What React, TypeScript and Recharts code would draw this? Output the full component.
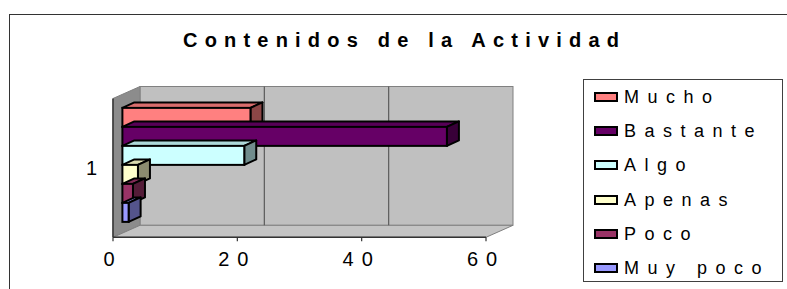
import React from 'react';
import { BarChart, Bar, XAxis, YAxis, Legend, ReferenceArea } from 'recharts';

// chart values
const CATEGORIES = ['1'];
const SERIES_NAMES = ['Mucho', 'Bastante', 'Algo', 'Apenas', 'Poco', 'Muy poco'];
const MUCHO = [20.6];
const BASTANTE = [52.2];
const ALGO = [19.6];
const APENAS = [2.5];
const POCO = [1.7];
const MUY_POCO = [1.0];
const X_TICKS = [0, 20, 40, 60];

const SERIES_VALUES = [MUCHO, BASTANTE, ALGO, APENAS, POCO, MUY_POCO];

// classic Excel palette
const COLORS = ['#FF8080', '#660066', '#CCFFFF', '#FFFFCC', '#993366', '#9999FF'];

const FONT = '"Liberation Sans", Arial, sans-serif';

// 3D offsets
const WALL_DX = 27;
const WALL_DY = 12;
const FRONT_DX = 9.4;
const FRONT_DY = 4.5;
const DEPTH_DX = 12;
const DEPTH_DY = 5.5;

const chartData = CATEGORIES.map((name, i) => {
  const row: { [key: string]: string | number } = { name };
  SERIES_NAMES.forEach((s, k) => {
    row[s] = SERIES_VALUES[k][i];
  });
  return row;
});

const shade = (hex: string, f: number) => {
  const n = parseInt(hex.slice(1), 16);
  const r = Math.round(((n >> 16) & 255) * f);
  const g = Math.round(((n >> 8) & 255) * f);
  const b = Math.round((n & 255) * f);
  return `rgb(${r},${g},${b})`;
};

const pts = (arr: number[][]) => arr.map(p => p.join(',')).join(' ');

// bar drawn as a little 3D box: top, right side, front face
const Bar3D = (props: any) => {
  const { x, y, width, height, color } = props;
  if (width == null || height == null) return null;
  const fx = x + FRONT_DX;
  const fy = y - FRONT_DY;
  const top = [[fx, fy], [fx + DEPTH_DX, fy - DEPTH_DY], [fx + width + DEPTH_DX, fy - DEPTH_DY], [fx + width, fy]];
  const side = [[fx + width, fy], [fx + width + DEPTH_DX, fy - DEPTH_DY], [fx + width + DEPTH_DX, fy + height - DEPTH_DY], [fx + width, fy + height]];
  return (
    <g>
      <polygon points={pts(top)} fill={shade(color, 0.85)} stroke="#000" strokeWidth={2} strokeLinejoin="round" />
      <polygon points={pts(side)} fill={shade(color, 0.55)} stroke="#000" strokeWidth={2} strokeLinejoin="round" />
      <rect x={fx} y={fy} width={width} height={height} fill={color} stroke="#000" strokeWidth={2} />
    </g>
  );
};

// walls, floor and gridlines of the 3D plot box
const Walls = (props: any) => {
  const { x, y, width, height } = props;
  const b = y + height;
  const min = X_TICKS[0];
  const max = X_TICKS[X_TICKS.length - 1];
  return (
    <g>
      <rect x={x + WALL_DX} y={y - WALL_DY} width={width} height={height} fill="#C0C0C0" stroke="#808080" strokeWidth={1} />
      <polygon points={pts([[x, y], [x + WALL_DX, y - WALL_DY], [x + WALL_DX, b - WALL_DY], [x, b]])} fill="#8C8C8C" stroke="#808080" strokeWidth={1} />
      <polygon points={pts([[x, b], [x + WALL_DX, b - WALL_DY], [x + width + WALL_DX, b - WALL_DY], [x + width, b]])} fill="#C4C4C4" stroke="#808080" strokeWidth={1} />
      {X_TICKS.slice(1, -1).map(t => {
        const gx = x + WALL_DX + (width * (t - min)) / (max - min);
        return <line key={t} x1={gx} y1={y - WALL_DY} x2={gx} y2={b - WALL_DY} stroke="#5A5A5A" strokeWidth={1.2} />;
      })}
    </g>
  );
};

const XTick = (props: any) => {
  const { x, y, payload } = props;
  return (
    <text x={x} y={y} dy="0.71em" textAnchor="middle" fontSize={20} fontFamily={FONT} fill="#000" letterSpacing={8}>
      {payload.value}
    </text>
  );
};

const LegendBox = (props: any) => {
  const payload = [...(props.payload || [])].sort(
    (a: any, b: any) => SERIES_NAMES.indexOf(a.value) - SERIES_NAMES.indexOf(b.value)
  );
  return (
    <div
      style={{
        width: 200,
        height: 203,
        boxSizing: 'border-box',
        border: '1px solid #404040',
        background: '#fff',
      }}
    >
      {payload.map((entry: any) => (
        <div key={entry.value} style={{ height: 34.2, display: 'flex', alignItems: 'center', paddingLeft: 10 }}>
          <span
            style={{
              display: 'inline-block',
              width: 24,
              height: 10,
              boxSizing: 'border-box',
              border: '2px solid #000',
              background: COLORS[SERIES_NAMES.indexOf(entry.value)],
              marginRight: 6,
            }}
          />
          <span style={{ fontFamily: FONT, fontSize: 18, letterSpacing: 8.5, color: '#000', lineHeight: 1 }}>
            {entry.value}
          </span>
        </div>
      ))}
    </div>
  );
};

export default function App() {
  return (
    <div style={{ position: 'absolute', left: 0, top: 0, width: 787, height: 289, overflow: 'hidden', background: '#fff' }}>
      <div
        style={{
          position: 'absolute',
          left: 9,
          top: 14,
          width: 900,
          height: 400,
          border: '1px solid #333',
        }}
      />
      <div
        style={{
          position: 'absolute',
          left: 183,
          top: 30,
          fontFamily: FONT,
          fontWeight: 'bold',
          fontSize: 20,
          lineHeight: 1,
          letterSpacing: 7.2,
          color: '#000',
          whiteSpace: 'nowrap',
        }}
      >
        Contenidos de la Actividad
      </div>
      <div style={{ position: 'absolute', left: 0, top: 0 }}>
        <BarChart
          width={787}
          height={289}
          data={chartData}
          layout="vertical"
          margin={{ top: 98.5, right: 301, bottom: 21.7, left: 83 }}
          barCategoryGap="10%"
          barGap={0}
        >
          <ReferenceArea x1={X_TICKS[0]} x2={X_TICKS[X_TICKS.length - 1]} shape={(p: any) => <Walls {...p} />} />
          <XAxis
            type="number"
            domain={[X_TICKS[0], X_TICKS[X_TICKS.length - 1]]}
            ticks={X_TICKS}
            height={30}
            axisLine={{ stroke: '#333', strokeWidth: 1.5 }}
            tickLine={{ stroke: '#333', strokeWidth: 1.2 }}
            tickSize={4}
            tickMargin={10.6}
            tick={<XTick />}
            interval={0}
          />
          <YAxis
            type="category"
            dataKey="name"
            width={30}
            axisLine={{ stroke: '#333', strokeWidth: 1.5 }}
            tickLine={false}
            tickSize={0}
            tickMargin={16}
            tick={{ fontSize: 20, fontFamily: FONT, fill: '#000' }}
          />
          {SERIES_NAMES.map((s, k) => (
            <Bar
              key={s}
              dataKey={s}
              name={s}
              fill={COLORS[k]}
              isAnimationActive={false}
              shape={(p: any) => <Bar3D {...p} color={COLORS[k]} />}
            />
          ))}
          <Legend
            layout="vertical"
            align="center"
            verticalAlign="middle"
            content={<LegendBox />}
            wrapperStyle={{ left: 583, top: 79, width: 200, height: 203 }}
          />
        </BarChart>
      </div>
    </div>
  );
}
